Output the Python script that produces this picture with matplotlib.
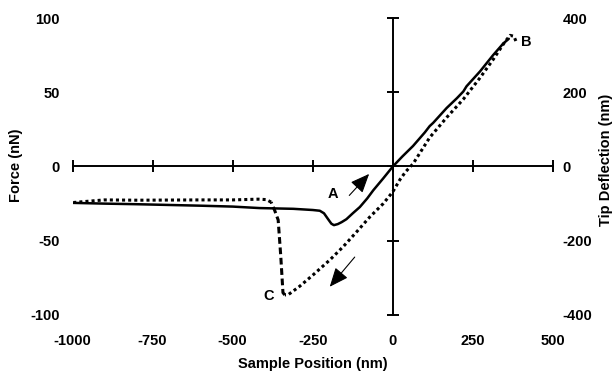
import matplotlib
matplotlib.use("Agg")
import matplotlib.pyplot as plt

# ---------------- data ----------------
# approach curve (solid): sample position (nm) vs force (nN)
approach_x = [-1000, -900, -800, -700, -600, -500, -416, -311, -250, -228, -215, -202,
              -192, -184, -172, -160, -145, -125, -103, -80, -61, -30, 0, 30, 63, 100,
              115, 126, 168, 200, 220, 230, 272, 313, 345, 362]
approach_f = [-24.5, -25.0, -25.4, -25.9, -26.4, -27.0, -28.0, -28.5, -29.3, -29.8, -31.5, -35.5,
              -38.5, -39.5, -38.8, -37.5, -35.5, -31.5, -27.3, -21.5, -16.0, -8.0, 0.0, 6.8, 13.8, 23.0,
              27.2, 29.4, 39.4, 46.0, 50.5, 54.0, 64.0, 75.0, 82.9, 86.0]

# retract curve (dotted): from B down to C, snap-off jump, then back out
retract_x = [384, 378, 366, 350, 313, 272, 220, 168, 115, 63, 40, 22, 0, -30, -72, -113,
             -155, -197, -249, -291, -327, -337, -343, -350, -358, -369, -380, -395,
             -420, -500, -600, -700, -800, -900, -940, -1000]
retract_f = [84.5, 87.7, 88.3, 84.0, 72.0, 59.7, 45.3, 33.0, 19.5, 1.8, -3.5, -8.9, -17.0, -25.0,
             -34.0, -44.0, -54.0, -63.0, -73.0, -80.7, -86.4, -86.5, -85.0, -60.0, -36.0, -29.5,
             -24.0, -22.3, -22.0, -22.5, -22.5, -22.6, -22.7, -22.5, -23.2, -24.3]
jump_start, jump_end = 21, 26   # indices of the vertical snap-off segment

x_ticks = [-1000, -750, -500, -250, 0, 250, 500]
force_ticks = [-100, -50, 0, 50, 100]
defl_ticks = [-400, -200, 0, 200, 400]

# arrows (tail -> head) and point labels
arrow_up = ((-136, -19.5), (-74, -5.0))
arrow_down = ((-119, -61), (-197, -81))
point_labels = [("A", -186, -18.5), ("B", 418, 84.0), ("C", -388, -87.5)]

# ---------------- figure ----------------
FONT = "Liberation Sans"
plt.rcParams["font.family"] = [FONT, "DejaVu Sans"]
plt.rcParams["font.weight"] = "bold"
FS = 10.5

fig = plt.figure(figsize=(6.15, 3.79), dpi=100)
rect = [0.1179, 0.1689, 0.7813, 0.7836]

ax = fig.add_axes(rect)
ax.set_xlim(-1000, 500)
ax.set_ylim(-100, 100)
for s in ("top", "right"):
    ax.spines[s].set_visible(False)
ax.spines["left"].set_position(("data", 0))
ax.spines["bottom"].set_position(("data", 0))
for s in ("left", "bottom"):
    ax.spines[s].set_linewidth(1.4)
ax.set_xticks(x_ticks)
ax.set_yticks(force_ticks)
ax.tick_params(direction="inout", length=8, width=1.4,
               labelleft=False, labelbottom=False)

# curves
dot = (0, (1, 1.0))
ax.plot(approach_x, approach_f, color="black", lw=1.8, solid_capstyle="round")
ax.plot(retract_x[:jump_start + 1], retract_f[:jump_start + 1], color="black",
        lw=2.2, linestyle=dot, dash_capstyle="butt")
ax.plot(retract_x[jump_start:jump_end + 1], retract_f[jump_start:jump_end + 1],
        color="black", lw=2.2, linestyle=(0, (2.2, 1.2)), dash_capstyle="butt")
ax.plot(retract_x[jump_end:], retract_f[jump_end:], color="black",
        lw=2.2, linestyle=dot, dash_capstyle="butt")

for (tail, head) in (arrow_up, arrow_down):
    ax.annotate("", xy=head, xytext=tail,
                arrowprops=dict(arrowstyle="-|>,head_length=0.9,head_width=0.38",
                                lw=0.8, color="black", shrinkA=0, shrinkB=0,
                                mutation_scale=13))
for lab, lx, ly in point_labels:
    ax.text(lx, ly, lab, fontsize=FS, fontweight="bold", ha="center", va="center")

# tick labels at the edges
lab_ax = fig.add_axes(rect, frameon=False)
lab_ax.set_xlim(-1000, 500)
lab_ax.set_ylim(-100, 100)
lab_ax.set_xticks(x_ticks)
lab_ax.set_yticks(force_ticks)
lab_ax.set_xticklabels([str(v) for v in x_ticks])
lab_ax.set_yticklabels([str(v) for v in force_ticks])
lab_ax.tick_params(axis="x", length=0, labelsize=FS, pad=14)
lab_ax.tick_params(axis="y", length=0, labelsize=FS, pad=9)
for t in lab_ax.get_xticklabels() + lab_ax.get_yticklabels():
    t.set_fontweight("bold")
lab_ax.patch.set_visible(False)

r_ax = lab_ax.twinx()
r_ax.set_ylim(-400, 400)
r_ax.set_yticks(defl_ticks)
r_ax.set_yticklabels([str(v) for v in defl_ticks])
for s in r_ax.spines.values():
    s.set_visible(False)
r_ax.tick_params(length=0, labelsize=FS, pad=7)
for t in r_ax.get_yticklabels():
    t.set_fontweight("bold")

# axis titles
fig.text(313 / 615, 1 - 364 / 379, "Sample Position (nm)", fontsize=FS,
         fontweight="bold", ha="center", va="center")
fig.text(16 / 615, 1 - 165 / 379, "Force (nN)", fontsize=FS, fontweight="bold",
         ha="center", va="center", rotation=90)
fig.text(606 / 615, 1 - 160 / 379, "Tip Deflection (nm)", fontsize=FS,
         fontweight="bold", ha="center", va="center", rotation=90)

fig.savefig("out.png", dpi=100)
